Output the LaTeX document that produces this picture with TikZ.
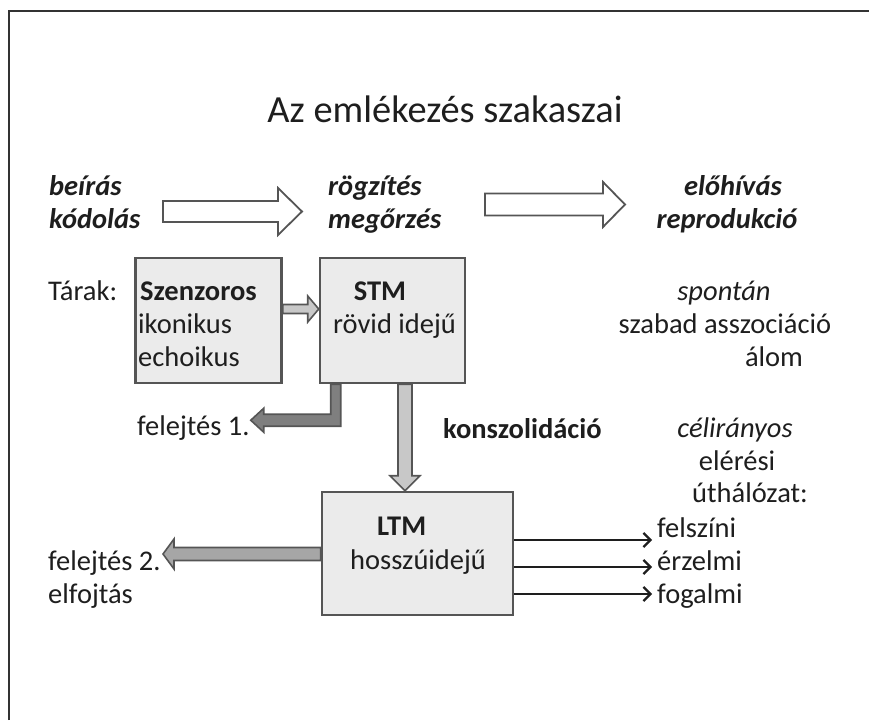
\documentclass[tikz,border=0pt]{standalone}
\usepackage{fontspec}
\setmainfont{Carlito}
\usepackage{tikz}
\usetikzlibrary{arrows.meta,calc,positioning}

\definecolor{ink}{HTML}{1E1E1E}
\definecolor{edge}{HTML}{555555}
\definecolor{frame}{HTML}{333333}
\definecolor{boxfill}{HTML}{EBEBEB}
\definecolor{light}{HTML}{C8C8C8}
\definecolor{mid}{HTML}{A6A6A6}
\definecolor{dark}{HTML}{7F7F7F}

% block arrow: [style]{from}{to}{shaft half}{head half}{head length}
\newcommand{\fatarrow}[6][]{%
  \coordinate (fa-b) at ($(#3)!#6!(#2)$);
  \draw[#1] ($(#2)!#4!90:(#3)$) -- ($(fa-b)!#4!90:(#3)$) -- ($(fa-b)!#5!90:(#3)$) -- (#3)
    -- ($(fa-b)!#5!-90:(#3)$) -- ($(fa-b)!#4!-90:(#3)$) -- ($(#2)!#4!-90:(#3)$) -- cycle;}

\begin{document}
\begin{tikzpicture}[x=1pt,y=-1pt]
		\tikzstyle{Txt}		= [inner sep=0pt, anchor=base west, text=ink, font=\fontsize{28.5}{33}\selectfont]
		\tikzstyle{TxtC}	= [Txt, anchor=base]
		\tikzstyle{Head}	= [Txt, font=\fontsize{28.5}{33}\selectfont\bfseries\itshape]
		\tikzstyle{Box}		= [draw=edge, line width=2.5pt, fill=boxfill, inner sep=0pt]
		\tikzstyle{Hollow}	= [draw=edge, line width=1.8pt, fill=white]
		\tikzstyle{Light}	= [draw=edge, line width=1.6pt, fill=light]
		\tikzstyle{Mid}		= [draw=edge, line width=1.6pt, fill=mid]
		\tikzstyle{Dark}	= [draw=edge, line width=1.6pt, fill=dark]
		\tikzstyle{Link}	= [-{Straight Barb[length=7pt,width=14pt]}, line width=2.2pt, ink]

		\useasboundingbox (0,0) rectangle (869,720);
		\draw [frame, line width=2.2pt] (9,720) -- (9,11) -- (869,11);

		\node (title) at (445,122) [TxtC, font=\fontsize{38.4}{44}\selectfont] {Az emlékezés szakaszai};

		% szakaszok
		\node (beir) at (49,195) [Head] {beírás};
		\node (kod) at (49,228) [Head] {kódolás};
		\node (rogz) at (328,195) [Head] {rögzítés};
		\node (megor) at (328,228) [Head] {megőrzés};
		\node (elohiv) at (733,195) [Head, anchor=base] {előhívás};
		\node (repro) at (727,228) [Head, anchor=base] {reprodukció};

		\coordinate (h1a) at (163,211.5);
		\coordinate (h1b) at (302,211.5);
		\coordinate (h2a) at (485,204.5);
		\coordinate (h2b) at (625,204.5);
		\fatarrow[Hollow]{h1a}{h1b}{10.5pt}{23.5pt}{24pt}
		\fatarrow[Hollow]{h2a}{h2b}{11pt}{22.5pt}{22pt}

		% tarak
		\node (tarak) at (48,300) [Txt] {Tárak:};
		\node (szenz) at (208.5,320.5) [Box, minimum width=146pt, minimum height=125pt] {};
		\node (stm) at (392.5,320.5) [Box, minimum width=145pt, minimum height=125pt] {};
		\node (ltm) at (417.5,553.5) [Box, minimum width=191pt, minimum height=123pt] {};

		\node (szenzT) at (140,300) [Txt, font=\fontsize{28.5}{33}\selectfont\bfseries] {Szenzoros};
		\node (ikon) at (138,333) [Txt] {ikonikus};
		\node (echo) at (138,366) [Txt] {echoikus};
		\node (stmT) at (380,300) [TxtC, font=\fontsize{28.5}{33}\selectfont\bfseries] {STM};
		\node (rovid) at (333,333) [Txt] {rövid idejű};
		\node (ltmT) at (377,535) [Txt, font=\fontsize{28.5}{33}\selectfont\bfseries] {LTM};
		\node (hosszu) at (350,569) [Txt] {hosszúidejű};

		\coordinate (s1) at (szenz.east |- 0,309);
		\coordinate (s2) at (stm.west |- 0,309);
		\fatarrow[Light]{s1}{s2}{4.5pt}{13pt}{11pt}

		\coordinate (k1) at (stm.south -| 405,0);
		\coordinate (k2) at (ltm.north -| 405,0);
		\fatarrow[Light]{k1}{k2}{7pt}{15pt}{15pt}

		\coordinate (f2a) at (ltm.west |- 0,554);
		\coordinate (f2b) at (163,554);
		\fatarrow[Mid]{f2a}{f2b}{6.5pt}{15pt}{11pt}

		\draw [Dark] ([xshift=12pt]stm.south west) -- ++(0,30) -- ++(-67,0) -- ++(0,-6) -- ++(-13,12)
			-- ++(13,12) -- ++(0,-6) -- ++(77,0) -- ++(0,-42) -- cycle;

		\node (felejt1) at (137,435) [Txt] {felejtés 1.};
		\node (konsz) at (443,438) [Txt, font=\fontsize{28.5}{33}\selectfont\bfseries] {konszolidáció};
		\node (felejt2) at (48,570) [Txt] {felejtés 2.};
		\node (elfojt) at (48,603) [Txt] {elfojtás};

		% elohivas
		\node (spont) at (724,300) [TxtC, font=\fontsize{28.5}{33}\selectfont\itshape] {spontán};
		\node (szabad) at (725,333) [TxtC] {szabad asszociáció};
		\node (alom) at (774,366) [TxtC] {álom};
		\node (celir) at (735,437) [TxtC, font=\fontsize{28.5}{33}\selectfont\itshape] {célirányos};
		\node (eleresi) at (737,470) [TxtC] {elérési};
		\node (uthal) at (750,502) [TxtC] {úthálózat:};

		\node (felsz) at (657,537) [Txt] {felszíni};
		\node (erz) at (657,570) [Txt] {érzelmi};
		\node (fog) at (657,603) [Txt] {fogalmi};

		\coordinate (e1) at (652,540);
		\coordinate (e2) at (652,567);
		\coordinate (e3) at (652,594);
		\draw [Link] (ltm.east |- e1) -- (e1);
		\draw [Link] (ltm.east |- e2) -- (e2);
		\draw [Link] (ltm.east |- e3) -- (e3);
	\end{tikzpicture}
\end{document}
